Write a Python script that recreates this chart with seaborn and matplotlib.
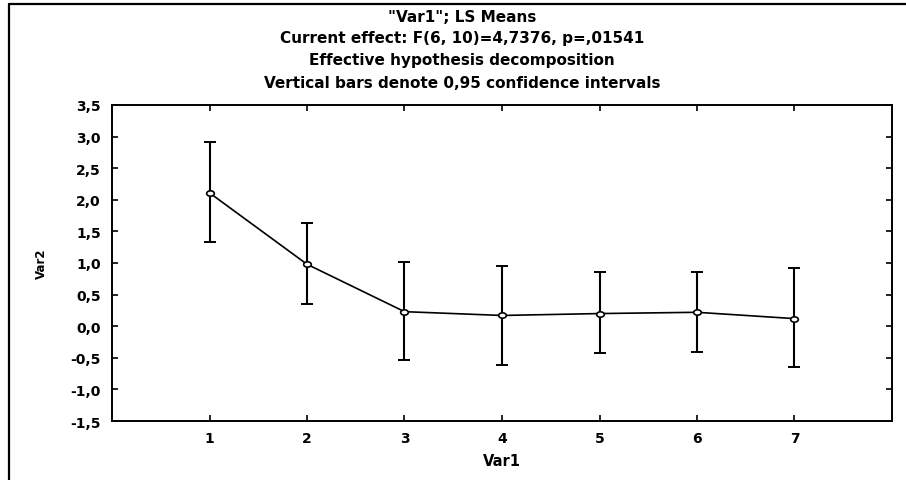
import matplotlib
matplotlib.use("Agg")
import matplotlib.pyplot as plt
from matplotlib.lines import Line2D
from matplotlib.path import Path
from matplotlib.ticker import FuncFormatter
import seaborn as sns
import pandas as pd
import numpy as np

# ---- data ----
var1 = [1, 2, 3, 4, 5, 6, 7]
means = [2.11, 0.98, 0.23, 0.17, 0.20, 0.22, 0.12]
ci_upper = [2.91, 1.63, 1.01, 0.95, 0.85, 0.86, 0.92]
ci_lower = [1.34, 0.35, -0.54, -0.61, -0.43, -0.41, -0.64]
title_lines = ['"Var1"; LS Means',
               'Current effect: F(6, 10)=4,7376, p=,01541',
               'Effective hypothesis decomposition',
               'Vertical bars denote 0,95 confidence intervals']
x_ticks = [1, 2, 3, 4, 5, 6, 7]
y_ticks = [-1.5, -1.0, -0.5, 0.0, 0.5, 1.0, 1.5, 2.0, 2.5, 3.0, 3.5]

df = pd.DataFrame({"Var1": var1, "Var2": means,
                   "lo": ci_lower, "hi": ci_upper})

sns.set_theme(style="ticks")
plt.rcParams['font.family'] = ['DejaVu Sans']
FW = "bold"

# wide, flat open-circle marker (the reference is horizontally stretched)
theta = np.linspace(0, 2 * np.pi, 41)
ellipse = Path(np.column_stack([np.cos(theta), 0.7 * np.sin(theta)]), closed=True)

W, H = 906, 481
fig = plt.figure(figsize=(W / 100, H / 100), dpi=100)
ax = fig.add_axes([112 / W, 1 - 422 / H, (892 - 112) / W, (422 - 106) / H])

# error bars
yerr = [df["Var2"] - df["lo"], df["hi"] - df["Var2"]]
ax.errorbar(df["Var1"], df["Var2"], yerr=yerr, fmt="none", ecolor="black",
            elinewidth=1.5, capsize=4, capthick=1.4, zorder=2)
# line with open markers
sns.lineplot(data=df, x="Var1", y="Var2", ax=ax, color="black", linewidth=1.2,
             marker=ellipse, markersize=5.5, markerfacecolor="white",
             markeredgecolor="black", markeredgewidth=1.2, zorder=3)

ax.set_xlim(0, 8)
ax.set_ylim(-1.5, 3.5)
ax.set_xticks(x_ticks)
ax.set_yticks(y_ticks)
ax.yaxis.set_major_formatter(FuncFormatter(lambda v, p: f"{v:.1f}".replace(".", ",")))
ax.tick_params(direction="in", length=4, width=1.2, top=True, right=True,
               labelsize=10, colors="black")
ax.tick_params(axis="y", pad=8)
ax.tick_params(axis="x", pad=7)
for lab in ax.get_xticklabels() + ax.get_yticklabels():
    lab.set_fontweight(FW)
for s in ax.spines.values():
    s.set_linewidth(1.4)
    s.set_color("black")
ax.set_xlabel("Var1", fontsize=10.5, fontweight=FW, color="black")
ax.set_ylabel("Var2", fontsize=8.5, fontweight=FW, color="black")
ax.xaxis.set_label_coords(0.5, -(461 - 422) / (422 - 106))
ax.xaxis.label.set_va("center")
ax.yaxis.set_label_coords(-(112 - 41) / (892 - 112), 0.5)
ax.yaxis.label.set_va("center")

# title block
for i, t in enumerate(title_lines):
    fig.text(462 / W, 1 - (17 + 22 * i) / H, t, ha="center", va="center",
             fontsize=11, fontweight=FW, color="black")

# outer frame (left and top lines)
fig.add_artist(Line2D([9 / W, 9 / W], [0, 1 - 5 / H], color="black", lw=1.6,
                      transform=fig.transFigure))
fig.add_artist(Line2D([9 / W, 1], [1 - 5 / H, 1 - 5 / H], color="black", lw=1.6,
                      transform=fig.transFigure))

fig.savefig("out.png", dpi=100)
